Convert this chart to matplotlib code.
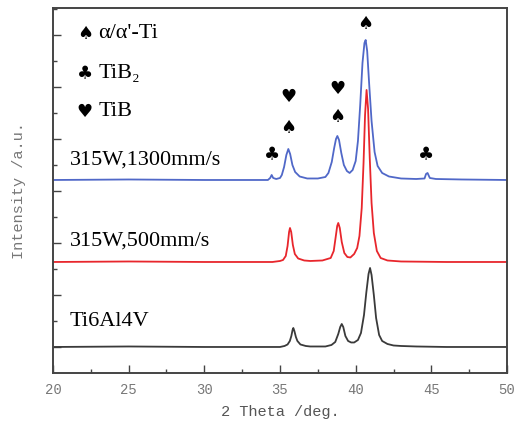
import matplotlib
matplotlib.use("Agg")
import matplotlib.pyplot as plt
from matplotlib.ticker import MultipleLocator

# 2 theta (deg) / intensity (a.u., already stacked)
ti64_x = [20, 25, 30, 35.0, 35.3, 35.5, 35.65, 35.75, 35.83, 35.88, 35.95, 36.05, 36.15, 36.35, 36.7,
          37.0, 38.0, 38.4, 38.65, 38.85, 38.98, 39.08, 39.18, 39.32, 39.5, 39.7, 39.9, 40.15, 40.35,
          40.55, 40.7, 40.85, 40.95, 41.05, 41.2, 41.35, 41.55, 41.75, 42.1, 42.5, 43.0, 44.0, 46, 50]
ti64_y = [26, 26.5, 26, 26, 27, 28.5, 32, 37, 43, 45, 42, 36, 32, 28.5, 27,
          26.5, 26.5, 28, 31, 39, 46, 49, 46, 37, 32, 30.5, 30.5, 33, 40,
          58, 80, 99, 105, 98, 78, 55, 38, 32, 29, 27.5, 27, 26.5, 26, 26]

r500_x = [20, 25, 30, 34.5, 35.0, 35.2, 35.38, 35.5, 35.6, 35.66, 35.74, 35.85, 35.98, 36.2, 36.6,
          37.0, 37.8, 38.35, 38.55, 38.68, 38.78, 38.85, 38.95, 39.08, 39.25, 39.45, 39.65, 39.9,
          40.1, 40.25, 40.4, 40.52, 40.62, 40.72, 40.82, 40.93, 41.05, 41.2, 41.4, 41.65, 42.1,
          43.0, 46, 50]
r500_y = [111, 111.5, 111, 111, 112, 113, 117, 127, 141, 145, 141, 128, 119, 114.5, 112.5,
          112, 112.5, 115, 122, 136, 147, 150, 145, 131, 120, 116, 115.5, 119,
          125, 137, 165, 210, 258, 283, 264, 215, 170, 140, 122, 115, 112.5,
          111.5, 111, 111]

r1300_x = [20, 25, 30, 34.2, 34.35, 34.45, 34.55, 34.75, 35.0, 35.12, 35.27, 35.42, 35.55, 35.67,
           35.82, 36.0, 36.3, 36.8, 37.5, 38.0, 38.2, 38.42, 38.58, 38.7, 38.79, 38.9, 39.05,
           39.22, 39.42, 39.6, 39.8, 40.0, 40.15, 40.3, 40.45, 40.58, 40.66, 40.76, 40.9, 41.05,
           41.25, 41.45, 41.75, 42.2, 43.0, 44.0, 44.55, 44.65, 44.75, 44.9, 45.3, 47, 50]
r1300_y = [193, 193.5, 193, 193, 195, 198, 195, 194, 195, 198, 206, 218, 224, 219,
           208, 201, 196.5, 194.5, 194.5, 196, 200, 211, 225, 234, 237, 233, 220,
           208, 202, 200, 203, 212, 232, 268, 310, 330, 333, 322, 287, 252,
           221, 207, 200, 196.5, 194.5, 194, 194.5, 199, 200, 195, 194, 193.5, 193]

series = [(ti64_x, ti64_y, "#3a3a3a"), (r500_x, r500_y, "#e8262c"), (r1300_x, r1300_y, "#5068c8")]

curve_labels = ["Ti6Al4V", "315W,500mm/s", "315W,1300mm/s"]
label_y = [51, 132, 213]

# phase markers: (2theta, height, symbol)
markers = [(34.45, 218, "\u2663"), (35.55, 245, "\u2660"), (35.55, 276, "\u2665"),
           (38.79, 256, "\u2660"), (38.79, 284, "\u2665"), (40.66, 349, "\u2660"),
           (44.65, 218, "\u2663")]
legend_items = [("\u2660", "\u03b1/\u03b1'-Ti"), ("\u2663", "TiB\u2082"), ("\u2665", "TiB")]
legend_y = [339, 299, 261]

fig = plt.figure(figsize=(5.14, 4.25), dpi=100)
ax = fig.add_axes([0.1031, 0.1224, 0.8833, 0.8588])

for xs, ys, c in series:
    ax.plot(xs, ys, color=c, lw=1.3)

serif = ["Liberation Serif", "DejaVu Serif", "DejaVu Sans"]
for txt, yy in zip(curve_labels, label_y):
    ax.text(21.1, yy, txt, fontsize=16, family=serif, va="center", ha="left")
for x, y, s in markers:
    ax.text(x, y, s, fontsize=13, family="DejaVu Sans", ha="center", va="center")
for (s, txt), yy in zip(legend_items, legend_y):
    ax.text(22.1, yy, s, fontsize=13, family="DejaVu Sans", ha="center", va="center")
    ax.text(23.0, yy, txt, fontsize=16, family=serif, ha="left", va="center")

ax.set_xlim(20, 50)
ax.set_ylim(0, 365)
ax.xaxis.set_major_locator(MultipleLocator(5))
ax.xaxis.set_minor_locator(MultipleLocator(2.5))
ax.set_yticks([26 + 52 * i for i in range(7)])
ax.set_yticks([52 * i for i in range(1, 8)], minor=True)
ax.set_yticklabels([])
ax.tick_params(which="both", direction="in", color="#444444", labelcolor="#777777",
               labelsize=10, width=1.0)
ax.tick_params(which="major", length=6)
ax.tick_params(which="minor", length=3)
ax.tick_params(axis="x", pad=7)
for lab in ax.get_xticklabels():
    lab.set_family("Liberation Mono")
for sp in ax.spines.values():
    sp.set_color("#444444")
    sp.set_linewidth(1.4)

ax.set_xlabel("2 Theta /deg.", family="Liberation Mono", fontsize=11, color="#555555", labelpad=6)
ax.set_ylabel("Intensity /a.u.", family="Liberation Mono", fontsize=11, color="#777777", labelpad=16)

fig.savefig("out.png", dpi=100)
